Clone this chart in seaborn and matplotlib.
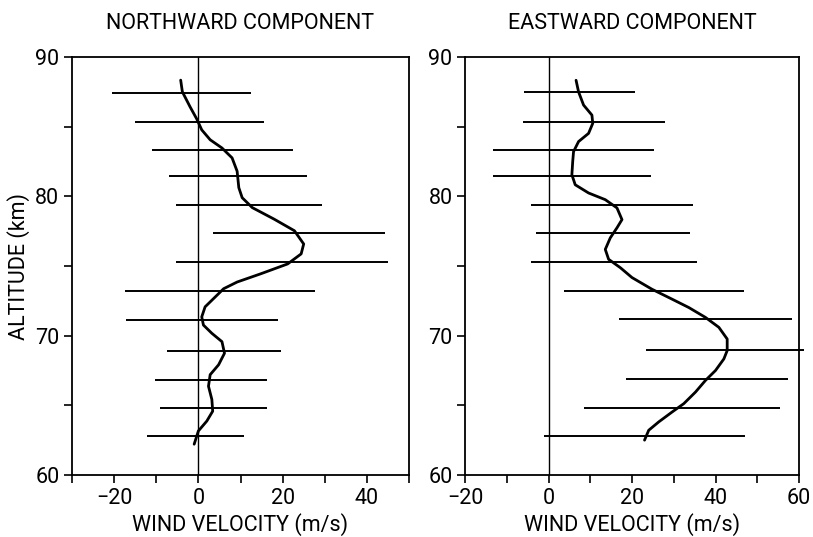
import numpy as np
import pandas as pd
import seaborn as sns
import matplotlib
matplotlib.use("Agg")
import matplotlib.pyplot as plt
from matplotlib.ticker import MultipleLocator

# ---------------- data ----------------
# Northward component: error bars (altitude, left end, right end)
n_bar_alt = [87.43, 85.32, 83.33, 81.43, 79.38, 77.34, 75.27, 73.18, 71.09, 68.93, 66.84, 64.80, 62.80]
n_bar_lo = [-20.4, -15.0, -11.0, -7.0, -5.4, 3.4, -5.2, -17.5, -17.2, -7.4, -10.3, -9.2, -12.1]
n_bar_hi = [12.6, 15.6, 22.4, 25.8, 29.4, 44.4, 45.0, 27.8, 19.0, 19.6, 16.2, 16.2, 10.8]
# Northward smooth profile
n_curve_alt = [88.34, 87.5, 86.44, 85.56, 84.77, 84.06, 83.47, 82.76, 81.8, 80.62, 79.9, 79.19,
               78.36, 77.53, 76.58, 75.87, 75.15, 74.44, 73.85, 73.37, 72.66, 72.07, 71.35,
               70.76, 70.17, 69.57, 68.74, 67.91, 67.2, 66.37, 65.42, 64.58, 63.87, 63.16, 62.21]
n_curve_v = [-4.2, -3.8, -2.0, -0.4, 0.8, 2.8, 5.6, 8.0, 9.2, 9.6, 10.4, 12.8,
             18.0, 22.8, 25.0, 24.4, 21.2, 14.8, 9.2, 6.0, 3.6, 1.6, 0.8,
             1.2, 3.2, 5.6, 6.2, 4.8, 2.8, 2.4, 3.2, 3.4, 2.0, 0.0, -1.0]

# Eastward component: error bars
e_bar_alt = [87.5, 85.36, 83.31, 81.43, 79.4, 77.38, 75.31, 73.21, 71.19, 69.0, 66.9, 64.81, 62.79]
e_bar_lo = [-5.8, -6.2, -13.2, -13.4, -4.2, -3.0, -4.3, 3.8, 16.8, 23.4, 18.6, 8.4, -1.1]
e_bar_hi = [20.6, 28.0, 25.2, 24.6, 34.6, 34.0, 35.6, 46.8, 58.4, 61.2, 57.4, 55.4, 47.0]
# Eastward smooth profile
e_curve_alt = [88.33, 87.5, 86.55, 85.83, 85.24, 84.52, 83.93, 83.21, 82.5, 81.55, 80.83, 80.24,
               79.76, 79.17, 78.33, 77.74, 77.02, 76.19, 75.48, 74.88, 74.17, 73.33, 72.62,
               72.02, 71.31, 70.6, 69.76, 68.93, 68.33, 67.5, 66.79, 65.95, 65.12, 64.52,
               63.81, 63.21, 62.5]
e_curve_v = [6.6, 7.2, 8.4, 10.4, 10.6, 9.6, 7.2, 6.0, 5.8, 5.6, 6.4, 9.6,
             13.6, 16.4, 17.6, 16.4, 14.8, 13.6, 14.4, 17.2, 20.0, 24.8, 29.6,
             33.6, 37.6, 40.8, 42.8, 42.8, 42.0, 40.0, 37.6, 35.2, 32.4, 29.6,
             26.4, 24.0, 23.0]

titles = ["NORTHWARD COMPONENT", "EASTWARD COMPONENT"]
xlabel = "WIND VELOCITY (m/s)"
ylabel = "ALTITUDE (km)"
left_xticks = [-20, 0, 20, 40]
right_xticks = [-20, 0, 20, 40, 60]
yticks = [60, 70, 80, 90]

# ---------------- style ----------------
sns.set_style("ticks")
plt.rcParams['font.family'] = ['Roboto', 'DejaVu Sans']
FS = 15.5
plt.rcParams['text.color'] = 'black'
plt.rcParams['axes.labelcolor'] = 'black'
plt.rcParams['xtick.color'] = 'black'
plt.rcParams['ytick.color'] = 'black'
plt.rcParams['axes.linewidth'] = 1.3
plt.rcParams['xtick.major.width'] = 1.2
plt.rcParams['ytick.major.width'] = 1.2

fig = plt.figure(figsize=(8.13, 5.37), dpi=100)
ax1 = fig.add_axes([72 / 813, 62 / 537, 337 / 813, 418 / 537])
ax2 = fig.add_axes([465 / 813, 62 / 537, 334 / 813, 418 / 537])

panels = [
    (ax1, n_bar_alt, n_bar_lo, n_bar_hi, n_curve_alt, n_curve_v, (-30, 50), left_xticks, titles[0]),
    (ax2, e_bar_alt, e_bar_lo, e_bar_hi, e_curve_alt, e_curve_v, (-20, 60), right_xticks, titles[1]),
]

for ax, b_alt, b_lo, b_hi, c_alt, c_v, xlim, xt, title in panels:
    ax.hlines(b_alt, b_lo, b_hi, colors='black', linewidth=1.4, clip_on=False)
    df = pd.DataFrame({"v": c_v, "alt": c_alt})
    sns.lineplot(data=df, x="v", y="alt", sort=False, estimator=None, orient='y',
                 color='black', linewidth=2.0, ax=ax)
    ax.axvline(0, color='black', linewidth=1.0)
    ax.set_xlim(*xlim)
    ax.set_ylim(60, 90)
    ax.set_xticks(xt)
    ax.xaxis.set_minor_locator(MultipleLocator(10))
    ax.set_yticks(yticks)
    ax.yaxis.set_minor_locator(MultipleLocator(5))
    ax.tick_params(which='major', direction='out', length=6, labelsize=FS, pad=3)
    ax.tick_params(which='minor', direction='out', length=6, width=1.2)
    ax.set_xlabel(xlabel, fontsize=FS, labelpad=3)
    ax.set_ylabel("")
    ax.set_title(title, fontsize=FS, pad=20)
    for s in ax.spines.values():
        s.set_visible(True)
        s.set_color('black')

ax1.set_ylabel(ylabel, fontsize=FS, labelpad=4)

fig.savefig("out.png", dpi=100)
